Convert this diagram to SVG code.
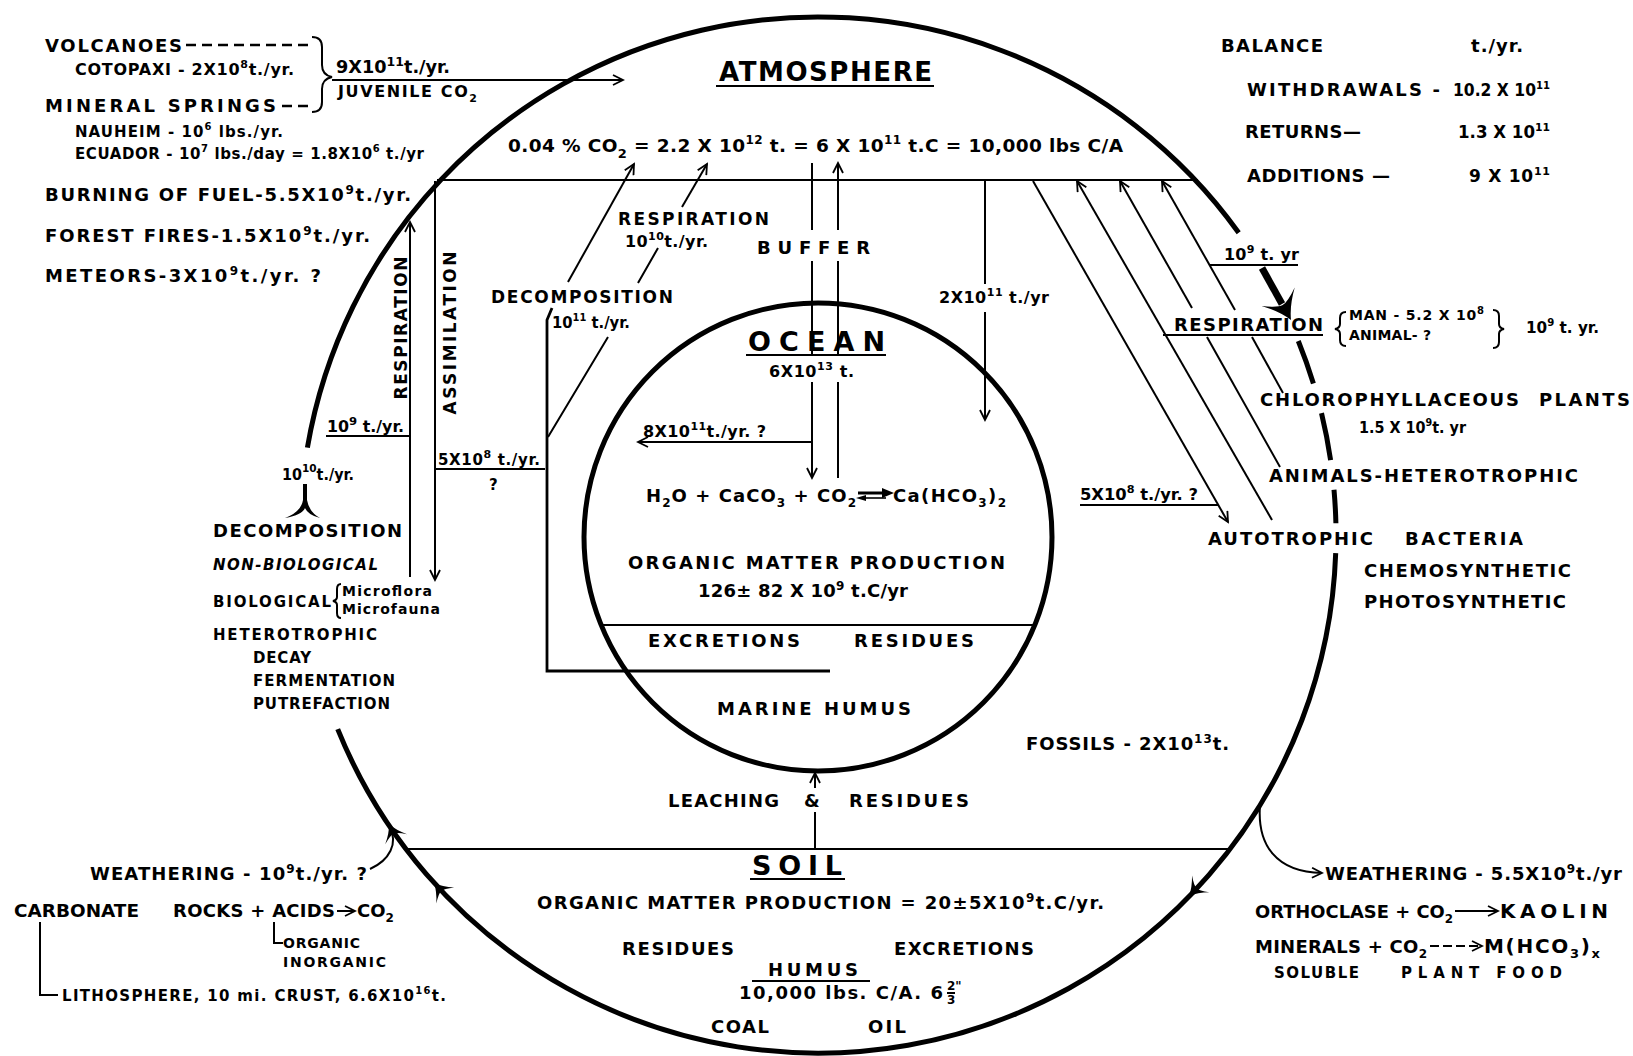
<svg xmlns="http://www.w3.org/2000/svg" width="1633" height="1056" viewBox="0 0 1633 1056">
<defs>
<style>
text { font-family: "DejaVu Sans", "Liberation Sans", sans-serif; font-weight: bold; fill: #000; }
.f13 { font-size: 13px; }
.f14 { font-size: 14px; }
.f15 { font-size: 15px; }
.f16 { font-size: 16px; }
.f17 { font-size: 17px; }
.f18 { font-size: 18px; }
.f185 { font-size: 18.5px; }
.f20 { font-size: 20px; }
.f26 { font-size: 26px; }
.f27 { font-size: 27px; }
.it { font-style: italic; }
.ln { stroke: #000; stroke-width: 2; fill: none; }
.ln3 { stroke: #000; stroke-width: 2.8; fill: none; }
.thk { stroke: #000; stroke-width: 5; fill: none; }
.dash { stroke: #000; stroke-width: 2.5; fill: none; stroke-dasharray: 10 6; }
.fill { fill: #000; stroke: none; }
</style>
<marker id="ah" markerUnits="userSpaceOnUse" markerWidth="14" markerHeight="12" viewBox="-12 -6 14 12" refX="0" refY="0" orient="auto">
<path d="M-10,-5 L0,0 L-10,5" fill="none" stroke="#000" stroke-width="1.8"/>
</marker>
<path id="sw" d="M0,0 Q-7,-3 -14,-10 Q-9,-3 -9,0 Q-9,3 -14,10 Q-7,3 0,0 Z"/>
</defs>
<rect width="1633" height="1056" fill="#fff"/>

<!-- Earth (outer circle) -->
<g id="earth">
<path class="thk" d="M307.4,447.7 A518,518 0 0 1 1238.7,232.7"/>
<path class="thk" d="M1298.3,341 A518,518 0 0 1 1313.4,383.6"/>
<path class="thk" d="M1321.5,413.2 A518,518 0 0 1 1330.6,460.2"/>
<path class="thk" d="M1334,489.8 A518,518 0 0 1 1335.9,523.2"/>
<path class="thk" d="M1335.7,553.1 A518,518 0 0 1 337.7,729.1"/>
<use href="#sw" transform="translate(1189,896) rotate(134) scale(1.2)"/>
<use href="#sw" transform="translate(434,883) rotate(228) scale(1.2)"/>
</g>

<!-- Ocean circle -->
<g id="ocean">
<circle class="thk" cx="818" cy="537" r="234"/>
<line class="ln" x1="601" y1="625" x2="1035" y2="625"/>
<text class="f27" x="748" y="351" textLength="137" lengthAdjust="spacing">OCEAN</text>
<line class="ln" x1="746" y1="355" x2="886" y2="355"/>
<text class="f16" x="769" y="377" textLength="85" lengthAdjust="spacing">6X10<tspan dy="-7" font-size="11">13</tspan><tspan dy="7"> t.</tspan></text>
<text class="f16" x="643" y="437" textLength="123" lengthAdjust="spacing">8X10<tspan dy="-7" font-size="11">11</tspan><tspan dy="7">t./yr. ?</tspan></text>
<text class="f18" x="646" y="502" textLength="210" lengthAdjust="spacing">H<tspan dy="5" font-size="12">2</tspan><tspan dy="-5">O + CaCO</tspan><tspan dy="5" font-size="12">3</tspan><tspan dy="-5"> + CO</tspan><tspan dy="5" font-size="12">2</tspan></text>
<line x1="858" y1="493" x2="884" y2="493" stroke="#000" stroke-width="3"/>
<path class="fill" d="M894,493 L882,488 L882,498 Z"/>
<line x1="862" y1="498" x2="886" y2="498" stroke="#000" stroke-width="1.6"/>
<path class="fill" d="M856,498 L866,495 L866,501 Z"/>
<text class="f18" x="893" y="502" textLength="113" lengthAdjust="spacing">Ca(HCO<tspan dy="5" font-size="12">3</tspan><tspan dy="-5">)</tspan><tspan dy="5" font-size="12">2</tspan></text>
<text class="f18" x="628" y="569" textLength="377" lengthAdjust="spacing">ORGANIC  MATTER  PRODUCTION</text>
<text class="f18" x="698" y="597" textLength="210" lengthAdjust="spacing">126± 82 X 10<tspan dy="-7" font-size="12">9</tspan><tspan dy="7"> t.C/yr</tspan></text>
<text class="f18" x="648" y="647" textLength="152" lengthAdjust="spacing">EXCRETIONS</text>
<text class="f18" x="854" y="647" textLength="120" lengthAdjust="spacing">RESIDUES</text>
<text class="f18" x="717" y="715" textLength="194" lengthAdjust="spacing">MARINE  HUMUS</text>
</g>

<!-- Top-left sources -->
<g id="volcanoes">
<text class="f18" x="45" y="52" textLength="137" lengthAdjust="spacing">VOLCANOES</text>
<line class="dash" x1="186" y1="45" x2="312" y2="45"/>
<text class="f16" x="75" y="75" textLength="219" lengthAdjust="spacing">COTOPAXI - 2X10<tspan dy="-7" font-size="11">8</tspan><tspan dy="7">t./yr.</tspan></text>
</g>
<g id="mineral-springs">
<text class="f18" x="45" y="112" textLength="231" lengthAdjust="spacing">MINERAL SPRINGS</text>
<line class="dash" x1="282" y1="106" x2="312" y2="106"/>
<text class="f15" x="75" y="137" textLength="208" lengthAdjust="spacing">NAUHEIM - 10<tspan dy="-7" font-size="10">6</tspan><tspan dy="7"> lbs./yr.</tspan></text>
<text class="f15" x="75" y="159" textLength="349" lengthAdjust="spacing">ECUADOR - 10<tspan dy="-7" font-size="10">7</tspan><tspan dy="7"> lbs./day = 1.8X10</tspan><tspan dy="-7" font-size="10">6</tspan><tspan dy="7"> t./yr</tspan></text>
</g>
<g id="juvenile">
<path class="ln" stroke-width="2.5" d="M312,37 Q322,37 322,47 L322,65 Q322,75 332,77 Q322,79 322,89 L322,102 Q322,112 312,112"/>
<text class="f17" x="336" y="73" textLength="114" lengthAdjust="spacingAndGlyphs">9X10<tspan dy="-7" font-size="12">11</tspan><tspan dy="7">t./yr.</tspan></text>
<text class="f16" x="338" y="97" textLength="139" lengthAdjust="spacing">JUVENILE CO<tspan dy="5" font-size="11">2</tspan></text>
</g>
<g id="burning"><text class="f18" x="45" y="201" textLength="366" lengthAdjust="spacing">BURNING OF FUEL-5.5X10<tspan dy="-7" font-size="12">9</tspan><tspan dy="7">t./yr.</tspan></text></g>
<g id="forest-fires"><text class="f18" x="45" y="242" textLength="325" lengthAdjust="spacing">FOREST FIRES-1.5X10<tspan dy="-7" font-size="12">9</tspan><tspan dy="7">t./yr.</tspan></text></g>
<g id="meteors"><text class="f18" x="45" y="282" textLength="276" lengthAdjust="spacing">METEORS-3X10<tspan dy="-7" font-size="12">9</tspan><tspan dy="7">t./yr. ?</tspan></text></g>

<!-- Atmosphere -->
<g id="atmosphere">
<text class="f26" x="719" y="81" textLength="213" lengthAdjust="spacing">ATMOSPHERE</text>
<line class="ln" x1="716" y1="86" x2="934" y2="86"/>
<text class="f185" x="508" y="152" textLength="615" lengthAdjust="spacing">0.04 % CO<tspan dy="6" font-size="13">2</tspan><tspan dy="-6"> = 2.2 X 10</tspan><tspan dy="-8" font-size="12">12</tspan><tspan dy="8"> t. = 6 X 10</tspan><tspan dy="-8" font-size="12">11</tspan><tspan dy="8"> t.C = 10,000 lbs C/A</tspan></text>
</g>

<!-- Balance -->
<g id="balance">
<text class="f18" x="1221" y="52" textLength="102" lengthAdjust="spacing">BALANCE</text>
<text class="f18" x="1471" y="52" textLength="52" lengthAdjust="spacing">t./yr.</text>
<text class="f18" x="1247" y="96" textLength="193" lengthAdjust="spacing">WITHDRAWALS -</text>
<text class="f17" x="1453" y="96" textLength="97" lengthAdjust="spacingAndGlyphs">10.2 X 10<tspan dy="-7" font-size="11">11</tspan></text>
<text class="f18" x="1245" y="138" textLength="116" lengthAdjust="spacing">RETURNS—</text>
<text class="f17" x="1458" y="138" textLength="92" lengthAdjust="spacingAndGlyphs">1.3 X 10<tspan dy="-7" font-size="11">11</tspan></text>
<text class="f18" x="1247" y="182" textLength="143" lengthAdjust="spacing">ADDITIONS —</text>
<text class="f17" x="1469" y="182" textLength="81" lengthAdjust="spacing">9 X 10<tspan dy="-7" font-size="11">11</tspan></text>
</g>

<!-- middle labels -->
<g id="respiration-ocean">
<text class="f17" x="618" y="225" textLength="151" lengthAdjust="spacing">RESPIRATION</text>
<text class="f16" x="625" y="247" textLength="83" lengthAdjust="spacing">10<tspan dy="-7" font-size="11">10</tspan><tspan dy="7">t./yr.</tspan></text>
</g>
<g id="buffer"><text class="f18" x="757" y="254" textLength="113" lengthAdjust="spacing">BUFFER</text></g>
<g id="decomposition-ocean">
<text class="f17" x="491" y="303" textLength="182" lengthAdjust="spacing">DECOMPOSITION</text>
<text class="f15" x="552" y="328" textLength="78" lengthAdjust="spacingAndGlyphs">10<tspan dy="-7" font-size="10">11</tspan><tspan dy="7"> t./yr.</tspan></text>
</g>
<g id="flux-2e11"><text class="f16" x="939" y="303" textLength="110" lengthAdjust="spacing">2X10<tspan dy="-7" font-size="11">11</tspan><tspan dy="7"> t./yr</tspan></text></g>

<!-- right side -->
<g id="respiration-animal">
<text class="f16" x="1224" y="260" textLength="75" lengthAdjust="spacing">10<tspan dy="-7" font-size="11">9</tspan><tspan dy="7"> t. yr</tspan></text>
<line class="ln" x1="1210" y1="265" x2="1298" y2="265"/>
<line x1="1262" y1="268" x2="1282" y2="304" stroke="#000" stroke-width="7"/>
<use href="#sw" transform="translate(1291,320) rotate(61) scale(1.9)"/>
<text class="f18" x="1174" y="331" textLength="149" lengthAdjust="spacing">RESPIRATION</text>
<line class="ln" x1="1163" y1="335" x2="1323" y2="335"/>
<path class="ln" d="M1346,312 Q1340,312 1340,318 L1340,324 Q1340,328 1335,329 Q1340,330 1340,334 L1340,340 Q1340,346 1346,346"/>
<text class="f14" x="1349" y="320" textLength="135" lengthAdjust="spacing">MAN - 5.2 X 10<tspan dy="-6" font-size="10">8</tspan></text>
<text class="f14" x="1349" y="340" textLength="82" lengthAdjust="spacing">ANIMAL- ?</text>
<path class="ln" d="M1493,310 Q1499,310 1499,316 L1499,324 Q1499,328 1504,329 Q1499,330 1499,334 L1499,342 Q1499,348 1493,348"/>
<text class="f15" x="1526" y="333" textLength="73" lengthAdjust="spacingAndGlyphs">10<tspan dy="-7" font-size="10">9</tspan><tspan dy="7"> t. yr.</tspan></text>
</g>
<g id="plants">
<text class="f18" x="1260" y="406" textLength="259" lengthAdjust="spacing">CHLOROPHYLLACEOUS</text>
<text class="f18" x="1539" y="406" textLength="91" lengthAdjust="spacing">PLANTS</text>
<text class="f15" x="1359" y="433" textLength="107" lengthAdjust="spacingAndGlyphs">1.5 X 10<tspan dy="-7" font-size="10">9</tspan><tspan dy="7">t. yr</tspan></text>
</g>
<g id="animals"><text class="f18" x="1269" y="482" textLength="309" lengthAdjust="spacing">ANIMALS-HETEROTROPHIC</text></g>
<g id="bacteria">
<text class="f16" x="1080" y="500" textLength="118" lengthAdjust="spacingAndGlyphs">5X10<tspan dy="-7" font-size="11">8</tspan><tspan dy="7"> t./yr. ?</tspan></text>
<line class="ln" x1="1080" y1="505" x2="1218" y2="505"/>
<text class="f18" x="1208" y="545" textLength="165" lengthAdjust="spacing">AUTOTROPHIC</text>
<text class="f18" x="1405" y="545" textLength="118" lengthAdjust="spacing">BACTERIA</text>
<text class="f18" x="1364" y="577" textLength="207" lengthAdjust="spacing">CHEMOSYNTHETIC</text>
<text class="f18" x="1364" y="608" textLength="202" lengthAdjust="spacing">PHOTOSYNTHETIC</text>
</g>

<!-- left land -->
<g id="land-exchange">
<text class="f17" transform="translate(407,328) rotate(-90)" text-anchor="middle" textLength="143" lengthAdjust="spacing">RESPIRATION</text>
<text class="f17" transform="translate(456,333) rotate(-90)" text-anchor="middle" textLength="163" lengthAdjust="spacing">ASSIMILATION</text>
<text class="f15" x="327" y="432" textLength="77" lengthAdjust="spacingAndGlyphs">10<tspan dy="-7" font-size="11">9</tspan><tspan dy="7"> t./yr.</tspan></text>
<line class="ln" x1="326" y1="436" x2="410" y2="436"/>
<text class="f15" x="438" y="465" textLength="102" lengthAdjust="spacing">5X10<tspan dy="-7" font-size="11">8</tspan><tspan dy="7"> t./yr.</tspan></text>
<line class="ln" x1="435" y1="469" x2="545" y2="469"/>
<text class="f15" x="489" y="490">?</text>
</g>
<g id="decomposition-land">
<text class="f15" x="282" y="480" textLength="72" lengthAdjust="spacingAndGlyphs">10<tspan dy="-8" font-size="11">10</tspan><tspan dy="8">t./yr.</tspan></text>
<path class="fill" d="M303,484 L307,484 L307,500 Q309,512 320,518 Q308,515 305,508 Q302,515 285,518 Q301,512 303,500 Z"/>
<text class="f18" x="213" y="537" textLength="189" lengthAdjust="spacing">DECOMPOSITION</text>
<text class="f15 it" x="213" y="570" textLength="165" lengthAdjust="spacing">NON-BIOLOGICAL</text>
<text class="f15" x="213" y="607" textLength="118" lengthAdjust="spacing">BIOLOGICAL</text>
<path class="ln" stroke-width="1.6" d="M341,584 Q337,584 337,589 L337,597 Q337,600 333,601 Q337,602 337,605 L337,613 Q337,618 341,618"/>
<text class="f14" x="342" y="596" textLength="90" lengthAdjust="spacing">Microflora</text>
<text class="f14" x="342" y="614" textLength="98" lengthAdjust="spacing">Microfauna</text>
<text class="f15" x="213" y="640" textLength="164" lengthAdjust="spacing">HETEROTROPHIC</text>
<text class="f15" x="253" y="663" textLength="58" lengthAdjust="spacing">DECAY</text>
<text class="f15" x="253" y="686" textLength="142" lengthAdjust="spacing">FERMENTATION</text>
<text class="f15" x="253" y="709" textLength="137" lengthAdjust="spacing">PUTREFACTION</text>
</g>

<!-- lower -->
<g id="fossils"><text class="f18" x="1026" y="750" textLength="203" lengthAdjust="spacing">FOSSILS - 2X10<tspan dy="-7" font-size="12">13</tspan><tspan dy="7">t.</tspan></text></g>
<g id="leaching">
<text class="f18" x="668" y="807" textLength="111" lengthAdjust="spacing">LEACHING</text>
<text class="f18" x="804" y="807">&amp;</text>
<text class="f18" x="849" y="807" textLength="120" lengthAdjust="spacing">RESIDUES</text>
</g>
<g id="soil">
<text class="f27" x="752" y="875" textLength="90" lengthAdjust="spacing">SOIL</text>
<line class="ln" x1="750" y1="879" x2="845" y2="879"/>
<text class="f18" x="537" y="909" textLength="567" lengthAdjust="spacing">ORGANIC  MATTER  PRODUCTION = 20±5X10<tspan dy="-7" font-size="12">9</tspan><tspan dy="7">t.C/yr.</tspan></text>
<text class="f18" x="622" y="955" textLength="112" lengthAdjust="spacing">RESIDUES</text>
<text class="f18" x="894" y="955" textLength="140" lengthAdjust="spacing">EXCRETIONS</text>
<text class="f18" x="768" y="976" textLength="90" lengthAdjust="spacing">HUMUS</text>
<line class="ln" x1="752" y1="981" x2="870" y2="981"/>
<text class="f18" x="739" y="999" textLength="204" lengthAdjust="spacing">10,000 lbs. C/A. 6</text>
<text x="947" y="990" font-size="12">2"</text>
<line class="ln" stroke-width="1.2" x1="947" y1="993" x2="955" y2="993"/>
<text x="947" y="1004" font-size="12">3</text>
<text class="f18" x="711" y="1033" textLength="58" lengthAdjust="spacing">COAL</text>
<text class="f18" x="868" y="1033" textLength="38" lengthAdjust="spacing">OIL</text>
</g>

<g id="weathering-left">
<text class="f18" x="90" y="880" textLength="277" lengthAdjust="spacing">WEATHERING - 10<tspan dy="-7" font-size="12">9</tspan><tspan dy="7">t./yr. ?</tspan></text>
<path class="ln" stroke-width="2.4" d="M370,869 C390,860 398,843 390,828"/>
<use href="#sw" transform="translate(389,824) rotate(-115) scale(1.2)"/>
<text class="f18" x="14" y="917" textLength="125" lengthAdjust="spacingAndGlyphs">CARBONATE</text>
<text class="f18" x="173" y="917" textLength="162" lengthAdjust="spacing">ROCKS + ACIDS</text>
<text class="f18" x="357" y="917">CO<tspan dy="5" font-size="12">2</tspan></text>
<path class="ln" d="M274,922 L274,943 L283,943"/>
<text class="f14" x="283" y="948" textLength="77" lengthAdjust="spacing">ORGANIC</text>
<text class="f14" x="283" y="967" textLength="103" lengthAdjust="spacing">INORGANIC</text>
<path class="ln" d="M40,922 L40,995 L58,995"/>
<text class="f15" x="62" y="1001" textLength="384" lengthAdjust="spacing">LITHOSPHERE, 10 mi. CRUST, 6.6X10<tspan dy="-7" font-size="10">16</tspan><tspan dy="7">t.</tspan></text>
</g>

<g id="weathering-right">
<text class="f18" x="1325" y="880" textLength="297" lengthAdjust="spacing">WEATHERING - 5.5X10<tspan dy="-7" font-size="12">9</tspan><tspan dy="7">t./yr</tspan></text>
<text class="f18" x="1255" y="918" textLength="198" lengthAdjust="spacingAndGlyphs">ORTHOCLASE + CO<tspan dy="5" font-size="12">2</tspan></text>
<text class="f20" x="1500" y="918" textLength="108" lengthAdjust="spacing">KAOLIN</text>
<text class="f18" x="1255" y="953" textLength="172" lengthAdjust="spacing">MINERALS + CO<tspan dy="5" font-size="12">2</tspan></text>
<text class="f20" x="1484" y="953" textLength="116" lengthAdjust="spacing">M(HCO<tspan dy="5" font-size="13">3</tspan><tspan dy="-5">)</tspan><tspan dy="5" font-size="13">x</tspan></text>
<text class="f15" x="1274" y="978" textLength="85" lengthAdjust="spacing">SOLUBLE</text>
<text class="f15" x="1401" y="978" textLength="161" lengthAdjust="spacing">PLANT  FOOD</text>
</g>

<!-- connectors -->
<g id="connectors">
<line class="ln" x1="332" y1="80" x2="623" y2="80" marker-end="url(#ah)"/>
<line class="ln" stroke-width="2.5" x1="437" y1="180" x2="1198" y2="180"/>
<line class="ln" x1="410" y1="577" x2="410" y2="222" marker-end="url(#ah)"/>
<line class="ln" x1="435" y1="181" x2="435" y2="580" marker-end="url(#ah)"/>
<path class="ln3" d="M552,308 L547,320 L547,671 L830,671"/>
<path class="ln" d="M548,437 L608,337 M638,283 L658,248"/>
<line class="ln" x1="682" y1="207" x2="707" y2="164" marker-end="url(#ah)"/>
<line class="ln" x1="568" y1="282" x2="634" y2="164" marker-end="url(#ah)"/>
<path class="ln" d="M812,163 L812,230 M812,261 L812,354"/>
<line class="ln" x1="812" y1="382" x2="812" y2="478" marker-end="url(#ah)"/>
<path class="ln" d="M838,478 L838,382 M838,354 L838,261"/>
<line class="ln" x1="838" y1="230" x2="838" y2="163" marker-end="url(#ah)"/>
<line class="ln" x1="812" y1="442" x2="638" y2="442" marker-end="url(#ah)"/>
<line class="ln" x1="985" y1="180" x2="985" y2="284"/>
<line class="ln" x1="985" y1="312" x2="985" y2="420" marker-end="url(#ah)"/>
<line class="ln" x1="1033" y1="181" x2="1228" y2="522" marker-end="url(#ah)"/>
<line class="ln" x1="1272" y1="520" x2="1077" y2="181" marker-end="url(#ah)"/>
<line class="ln" x1="1280" y1="467" x2="1207" y2="337"/>
<line class="ln" x1="1192" y1="308" x2="1120" y2="181" marker-end="url(#ah)"/>
<line class="ln" x1="1283" y1="393" x2="1252" y2="337"/>
<line class="ln" x1="1235" y1="310" x2="1162" y2="181" marker-end="url(#ah)"/>
<line class="ln" x1="815" y1="849" x2="815" y2="812"/>
<line class="ln" x1="815" y1="788" x2="815" y2="773" marker-end="url(#ah)"/>
<line class="ln" stroke-width="2.5" x1="406" y1="849" x2="1230" y2="849"/>
<path class="ln" stroke-width="2.2" d="M1260,805 C1257,845 1276,872 1322,873" marker-end="url(#ah)"/>
<line class="ln" x1="337" y1="911" x2="355" y2="911" marker-end="url(#ah)"/>
<line class="ln" x1="1455" y1="911" x2="1498" y2="911" marker-end="url(#ah)"/>
<line class="ln" stroke-dasharray="9 4" x1="1430" y1="946" x2="1482" y2="946" marker-end="url(#ah)"/>
</g>
</svg>
